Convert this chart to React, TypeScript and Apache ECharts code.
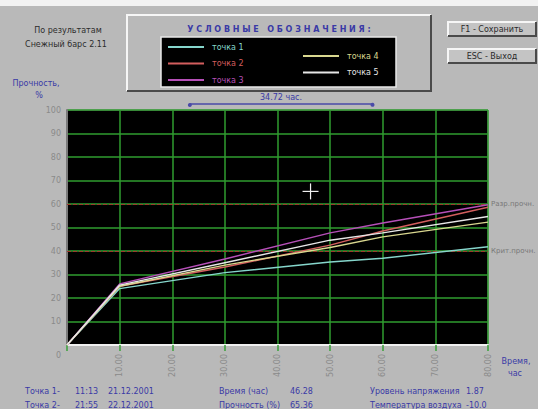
import React, { useEffect, useRef } from "react";
import * as echarts from "echarts";

const FONT = '"DejaVu Sans", sans-serif';

const seriesNames = ["точка 1", "точка 2", "точка 3", "точка 4", "точка 5"];
const seriesColors = ["#86d6cc", "#d35e5e", "#b64fb8", "#d9d78f", "#e6e6e6"];
const hours = [0, 10, 30, 50, 60, 80];
const point1 = [0, 24, 30.8, 35.3, 36.9, 41.8];
const point2 = [0, 25, 33.2, 42.5, 48.5, 58.6];
const point3 = [0, 26, 36.6, 47.7, 51.9, 59.7];
const point4 = [0, 25, 34, 41.5, 46, 52.3];
const point5 = [0, 25.5, 35, 44.6, 47.7, 54.7];
const allPoints = [point1, point2, point3, point4, point5];

const thresholdValues = [60, 40];
const thresholdLabels = ["Разр.прочн.", "Крит.прочн."];

const cursorHour = 46.28;
const cursorStrength = 65.36;
const spanStartHour = 23.3;
const spanHours = 34.72;

const infoLeft = [
  ["Точка 1-", "11:13", "21.12.2001"],
  ["Точка 2-", "21:55", "22.12.2001"],
];
const infoMid = [
  ["Время (час)", "46.28"],
  ["Прочность (%)", "65.36"],
];
const infoRight = [
  ["Уровень напряжения", "1.87"],
  ["Температура воздуха", "-10.0"],
];

const BLUE = "#3a3aa6";
const BG = "#b9b9b9";

function txt(x: number, y: number, text: string, fill: string, opts: any = {}) {
  const size = opts.size || 8;
  const weight = opts.bold ? "bold " : "";
  const align = opts.align || "left";
  return {
    type: "text",
    x,
    y,
    silent: true,
    style: {
      text,
      fill,
      font: `${weight}${size}px ${FONT}`,
      textAlign: align,
      align,
      textVerticalAlign: "middle",
      verticalAlign: "middle",
    },
  };
}

function button(x: number, y: number, w: number, h: number, label: string) {
  return [
    { type: "rect", shape: { x, y, width: w, height: h }, style: { fill: "#c4c4c4" }, silent: true },
    { type: "polyline", shape: { points: [[x, y + h], [x, y], [x + w, y]] }, style: { stroke: "#f6f6f6", lineWidth: 2, fill: "none" }, silent: true },
    { type: "polyline", shape: { points: [[x, y + h], [x + w, y + h], [x + w, y]] }, style: { stroke: "#4a4a4a", lineWidth: 2, fill: "none" }, silent: true },
    txt(x + w / 2, y + h / 2 + 0.5, label, "#2a2a2a", { align: "center" }),
  ];
}

export default function App() {
  const ref = useRef<HTMLDivElement>(null);

  useEffect(() => {
    if (!ref.current) return;
    const chart = echarts.init(ref.current, undefined, { renderer: "svg" });

    const series: any[] = seriesNames.map((name, i) => ({
      name,
      type: "line",
      data: hours.map((h, k) => [h, allPoints[i][k]]),
      symbol: "none",
      color: seriesColors[i],
      lineStyle: { width: 1.4, color: seriesColors[i] },
      z: 3,
    }));
    series[0].markLine = {
      silent: true,
      symbol: "none",
      z: 2,
      lineStyle: { color: "#9c3a2c", type: "dashed", width: 1 },
      label: { position: "end", color: "#777", fontSize: 7, fontFamily: FONT, distance: 3 },
      data: thresholdValues.map((v, i) => ({ yAxis: v, label: { formatter: thresholdLabels[i] } })),
    };

    const legendBase = {
      orient: "vertical",
      icon: "rect",
      itemWidth: 36,
      itemHeight: 2,
      itemGap: 6.5,
      padding: 0,
      selectedMode: false,
      z: 10,
      textStyle: { fontSize: 8, fontFamily: FONT, lineHeight: 10, padding: [0, 0, 0, 3] },
    };

    const option: any = {
      animation: false,
      backgroundColor: BG,
      grid: {
        left: 67,
        top: 110,
        width: 421,
        height: 235,
        show: true,
        backgroundColor: "#000",
        borderColor: "#a0a0a0",
        borderWidth: 1,
      },
      legend: [
        {
          ...legendBase,
          left: 168,
          top: 42,
          data: seriesNames.slice(0, 3).map((n, i) => ({ name: n, textStyle: { color: seriesColors[i] } })),
        },
        {
          ...legendBase,
          left: 303,
          top: 51,
          data: seriesNames.slice(3).map((n, i) => ({ name: n, textStyle: { color: seriesColors[i + 3] } })),
        },
      ],
      xAxis: {
        type: "value",
        min: 0,
        max: 80,
        interval: 10,
        axisLine: { show: true, lineStyle: { color: "#f0f0f0", width: 2 } },
        axisTick: { show: true, length: 6, lineStyle: { color: "#3aa23a", width: 1.5 } },
        splitLine: { show: true, lineStyle: { color: "#2f9c2f", width: 1.5 } },
        axisLabel: {
          rotate: 90,
          margin: 9,
          color: "#8a8a8a",
          fontSize: 8,
          fontFamily: FONT,
          formatter: (v: number) => (v === 0 ? "" : v.toFixed(2)),
        },
      },
      yAxis: {
        type: "value",
        min: 0,
        max: 100,
        interval: 10,
        axisLine: { show: true, lineStyle: { color: "#7a7a7a", width: 2 } },
        axisTick: { show: false },
        splitLine: { show: true, lineStyle: { color: "#2f9c2f", width: 1.5 } },
        axisLabel: {
          margin: 6,
          color: "#8a8a8a",
          fontSize: 8,
          fontFamily: FONT,
          formatter: (v: number) => (v === 0 ? "{z|0}" : String(v)),
          rich: { z: { padding: [20, 0, 0, 0], color: "#8a8a8a", fontSize: 8, fontFamily: FONT } },
        },
      },
      series,
    };
    chart.setOption(option);

    const [cx, cy] = chart.convertToPixel({ gridIndex: 0 }, [cursorHour, cursorStrength]) as number[];
    const sx1 = chart.convertToPixel({ xAxisIndex: 0 }, spanStartHour) as number;
    const sx2 = chart.convertToPixel({ xAxisIndex: 0 }, spanStartHour + spanHours) as number;
    const sy = 104;

    const graphics: any[] = [
      { type: "rect", shape: { x: 0, y: 0, width: 538, height: 6 }, style: { fill: "#f2f2f2" }, silent: true },
      txt(68, 30, "По результатам", "#2c2c2c", { align: "center" }),
      txt(66, 44, "Снежный барс 2.11", "#2c2c2c", { align: "center" }),
      txt(36, 83, "Прочность,", BLUE, { align: "center" }),
      txt(39, 95, "%", BLUE, { align: "center" }),
      // legend panel
      { type: "rect", shape: { x: 127, y: 15, width: 304, height: 76 }, style: { fill: BG }, silent: true },
      { type: "polyline", shape: { points: [[127, 91], [127, 15], [431, 15]] }, style: { stroke: "#f6f6f6", lineWidth: 2, fill: "none" }, silent: true },
      { type: "polyline", shape: { points: [[127, 91], [431, 91], [431, 15]] }, style: { stroke: "#4a4a4a", lineWidth: 2, fill: "none" }, silent: true },
      { type: "rect", shape: { x: 161, y: 37, width: 235, height: 50 }, style: { fill: "#000", stroke: "#e8e8e8", lineWidth: 1.5 }, silent: true },
      txt(279, 29, "У С Л О В Н Ы Е   О Б О З Н А Ч Е Н И Я :", BLUE, { align: "center", bold: true, size: 8 }),
      ...button(448, 22, 88, 14, "F1 - Сохранить"),
      ...button(448, 49, 88, 14, "ESC - Выход"),
      // span annotation
      { type: "line", shape: { x1: sx1, y1: sy, x2: sx2, y2: sy }, style: { stroke: "#4a4aa8", lineWidth: 1.5 }, silent: true },
      { type: "circle", shape: { cx: sx1, cy: sy, r: 2 }, style: { fill: "#4a4aa8" }, silent: true },
      { type: "circle", shape: { cx: sx2, cy: sy, r: 2 }, style: { fill: "#4a4aa8" }, silent: true },
      txt((sx1 + sx2) / 2, 97, spanHours.toFixed(2) + " час.", BLUE, { align: "center" }),
      // crosshair
      { type: "line", shape: { x1: cx - 8, y1: cy, x2: cx + 8, y2: cy }, style: { stroke: "#f0f0f0", lineWidth: 1.2 }, silent: true, z: 10 },
      { type: "line", shape: { x1: cx, y1: cy - 8, x2: cx, y2: cy + 8 }, style: { stroke: "#f0f0f0", lineWidth: 1.2 }, silent: true, z: 10 },
      // x axis title
      txt(516, 361, "Время,", BLUE, { align: "center" }),
      txt(515, 373, "час", BLUE, { align: "center" }),
    ];
    const rowsY = [391, 405];
    infoLeft.forEach((r, i) => {
      graphics.push(txt(25, rowsY[i], r[0], BLUE));
      graphics.push(txt(75, rowsY[i], r[1], BLUE));
      graphics.push(txt(108, rowsY[i], r[2], BLUE));
    });
    infoMid.forEach((r, i) => {
      graphics.push(txt(219, rowsY[i], r[0], BLUE));
      graphics.push(txt(290, rowsY[i], r[1], BLUE));
    });
    infoRight.forEach((r, i) => {
      graphics.push(txt(370, rowsY[i], r[0], BLUE));
      graphics.push(txt(466, rowsY[i], r[1], BLUE));
    });

    chart.setOption({ graphic: graphics });

    return () => chart.dispose();
  }, []);

  return (
    <div
      ref={ref}
      style={{ position: "fixed", left: 0, top: 0, width: 538, height: 409 }}
    />
  );
}
